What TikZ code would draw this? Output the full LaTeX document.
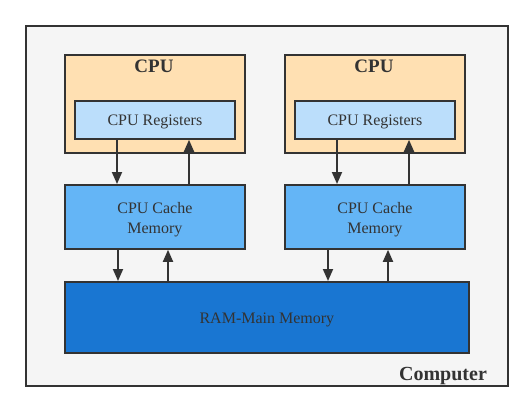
\documentclass[tikz,border=0pt]{standalone}
\usepackage{fontspec}
\setmainfont{Liberation Serif}
\usetikzlibrary{arrows.meta}
\definecolor{stroke}{HTML}{333333}
\definecolor{bgc}{HTML}{F5F5F5}
\definecolor{cpuc}{HTML}{FFE0B2}
\definecolor{regc}{HTML}{BBDEFB}
\definecolor{cachec}{HTML}{64B5F6}
\definecolor{ramc}{HTML}{1976D2}
\begin{document}
\begin{tikzpicture}[x=1pt,y=-1pt,
  box/.style={draw=stroke,line width=1.8pt,inner sep=0pt,anchor=north west},
  txt/.style={text=stroke,font=\fontsize{16}{20}\selectfont,align=center,inner sep=0pt,yshift=-2.5pt},
  conn/.style={draw=stroke,line width=1.8pt,-{Triangle[length=12pt,width=10pt]}},
  ttl/.style={text=stroke,font=\fontsize{19}{22}\selectfont\bfseries}]
\useasboundingbox (0,0) rectangle (532,410);
\node[box,fill=bgc,minimum width=482,minimum height=360] (comp) at (25,25) {};
\node[ttl,font=\fontsize{20}{24}\selectfont\bfseries,anchor=base] (complbl) at (443,380) {Computer};
% left
\node[box,fill=cpuc,minimum width=180,minimum height=98] (cpuA) at (64,54) {};
\node[ttl,anchor=base] (cpuAt) at (154,72) {CPU};
\node[box,fill=regc,minimum width=160,minimum height=38] (regA) at (74,100) {};
\node[txt] (regAt) at (regA.center) {CPU Registers};
\node[box,fill=cachec,minimum width=180,minimum height=64] (cacheA) at (64,184) {};
\node[txt] (cacheAt) at (cacheA.center) {CPU Cache\\Memory};
% right
\node[box,fill=cpuc,minimum width=180,minimum height=98] (cpuB) at (284,54) {};
\node[ttl,anchor=base] (cpuBt) at (374,72) {CPU};
\node[box,fill=regc,minimum width=160,minimum height=38] (regB) at (294,100) {};
\node[txt] (regBt) at (regB.center) {CPU Registers};
\node[box,fill=cachec,minimum width=180,minimum height=64] (cacheB) at (284,184) {};
\node[txt] (cacheBt) at (cacheB.center) {CPU Cache\\Memory};
% RAM
\node[box,fill=ramc,minimum width=404,minimum height=71] (ram) at (64,281) {};
\node[txt] (ramt) at (ram.center) {RAM-Main Memory};
% arrows
\draw[conn] (regA.south -| 117,0) -- (cacheA.north -| 117,0);
\draw[conn] (cacheA.north -| 189,0) -- (regA.south -| 189,0);
\draw[conn] (cacheA.south -| 118,0) -- (ram.north -| 118,0);
\draw[conn] (ram.north -| 168,0) -- (cacheA.south -| 168,0);
\draw[conn] (regB.south -| 337,0) -- (cacheB.north -| 337,0);
\draw[conn] (cacheB.north -| 409,0) -- (regB.south -| 409,0);
\draw[conn] (cacheB.south -| 328,0) -- (ram.north -| 328,0);
\draw[conn] (ram.north -| 388,0) -- (cacheB.south -| 388,0);
\end{tikzpicture}
\end{document}
